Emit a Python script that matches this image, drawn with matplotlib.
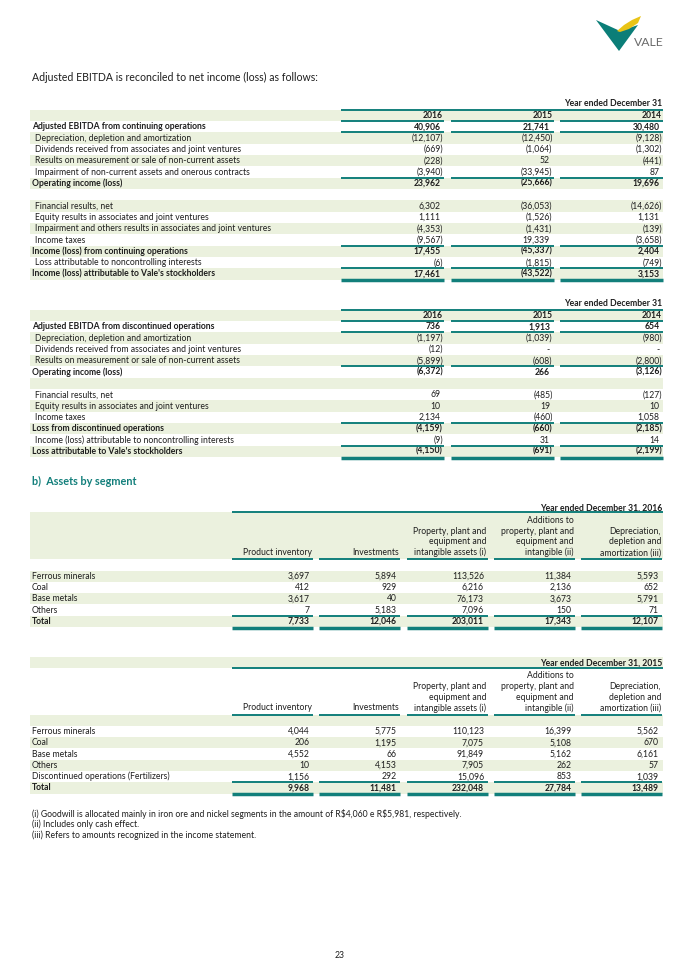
import matplotlib
matplotlib.use("Agg")
import matplotlib.pyplot as plt
from matplotlib.patches import Polygon, Rectangle

plt.rcParams['font.family'] = ['Lato', 'DejaVu Sans']

TEAL = '#127F7B'
SHADE = '#EBF1DE'
INK = '#1E1E1E'
FS = 6.2

# ---- data: reconciliation, continuing operations
years = ['2016', '2015', '2014']
cont_labels = [
    "Adjusted EBITDA from continuing operations",
    "Depreciation, depletion and amortization",
    "Dividends received from associates and joint ventures",
    "Results on measurement or sale of non-current assets",
    "Impairment of non-current assets and onerous contracts",
    "Operating income (loss)",
    "",
    "Financial results, net",
    "Equity results in associates and joint ventures",
    "Impairment and others results in associates and joint ventures",
    "Income taxes",
    "Income (loss) from continuing operations",
    "Loss attributable to noncontrolling interests",
    "Income (loss) attributable to Vale's stockholders",
]
cont_bold = [1, 6, 12, 14]
cont_2016 = [40906, -12107, -669, -228, -3940, 23962, None, 6302, 1111, -4353, -9567, 17455, -6, 17461]
cont_2015 = [21741, -12450, -1064, 52, -33945, -25666, None, -36053, -1526, -1431, 19339, -45337, -1815, -43522]
cont_2014 = [30480, -9128, -1302, -441, 87, 19696, None, -14626, 1131, -139, -3658, 2404, -749, 3153]

# ---- data: reconciliation, discontinued operations
disc_labels = [
    "Adjusted EBITDA from discontinued operations",
    "Depreciation, depletion and amortization",
    "Dividends received from associates and joint ventures",
    "Results on measurement or sale of non-current assets",
    "Operating income (loss)",
    "",
    "Financial results, net",
    "Equity results in associates and joint ventures",
    "Income taxes",
    "Loss from discontinued operations",
    "Income (loss) attributable to noncontrolling interests",
    "Loss attributable to Vale's stockholders",
]
disc_bold = [1, 5, 10, 12]
disc_2016 = [736, -1197, -12, -5899, -6372, None, 69, 10, 2134, -4159, -9, -4150]
disc_2015 = [1913, -1039, '-', -608, 266, None, -485, 19, -460, -660, 31, -691]
disc_2014 = [654, -980, '-', -2800, -3126, None, -127, 10, 1058, -2185, 14, -2199]

# ---- data: assets by segment
asset_headers = [
    ["Product inventory"],
    ["Investments"],
    ["Property, plant and", "equipment and", "intangible assets (i)"],
    ["Additions to", "property, plant and", "equipment and", "intangible (ii)"],
    ["Depreciation,", "depletion and", "amortization (iii)"],
]
seg_2016 = ["Ferrous minerals", "Coal", "Base metals", "Others", "Total"]
inv_2016 = [3697, 412, 3617, 7, 7733]
invest_2016 = [5894, 929, 40, 5183, 12046]
ppe_2016 = [113526, 6216, 76173, 7096, 203011]
add_2016 = [11384, 2136, 3673, 150, 17343]
dda_2016 = [5593, 652, 5791, 71, 12107]

seg_2015 = ["Ferrous minerals", "Coal", "Base metals", "Others",
            "Discontinued operations (Fertilizers)", "Total"]
inv_2015 = [4044, 206, 4552, 10, 1156, 9968]
invest_2015 = [5775, 1195, 66, 4153, 292, 11481]
ppe_2015 = [110123, 7075, 91849, 7905, 15096, 232048]
add_2015 = [16399, 5108, 5162, 262, 853, 27784]
dda_2015 = [5562, 670, 6161, 57, 1039, 13489]

notes = [
    "(i) Goodwill is allocated mainly in iron ore and nickel segments in the amount of R\\$4,060 e R\\$5,981, respectively.",
    "(ii) Includes only cash effect.",
    "(iii) Refers to amounts recognized in the income statement.",
]

fig = plt.figure(figsize=(6.8, 9.61), dpi=100)
ax = fig.add_axes([0, 0, 1, 1])
ax.set_xlim(0, 680)
ax.set_ylim(961, 0)
ax.axis('off')

LEFT, RIGHT = 30, 663


def fmt(v):
    if v is None:
        return ''
    if isinstance(v, str):
        return v
    s = f"{abs(v):,}"
    return f"({s})" if v < 0 else s


def num(x, y, v, bold=False):
    pad = 1 if (isinstance(v, int) and v < 0) else 3.5
    ax.text(x - pad, y, fmt(v), ha='right', va='center', fontsize=FS,
            color=INK, fontweight='bold' if bold else 'normal')


def band(y0, y1):
    ax.add_patch(Rectangle((LEFT, y0), RIGHT - LEFT, y1 - y0, color=SHADE, lw=0, zorder=0))


def hline(x0, x1, y, lw=1.4):
    ax.plot([x0, x1], [y, y], color=TEAL, lw=lw, solid_capstyle='butt', zorder=3)


def double(x0, x1, y):
    hline(x0, x1, y + 1.2, 2.5)


def year_table(yh, labels, bold_rows, cols, lines_above):
    p = 11.33
    rights = [444, 553.5, 663]
    w = 103
    ax.text(RIGHT - 1, yh - 11.6, "Year ended December 31", ha='right', va='center',
            fontsize=FS, color=INK, fontweight='bold')
    band(yh - p / 2, yh + p / 2)
    for i in range(1, len(labels) + 1):
        if i % 2 == 0:
            band(yh + i * p - p / 2, yh + i * p + p / 2)
    hline(rights[0] - w, rights[-1], yh - p / 2)
    for r, yr in zip(rights, years):
        ax.text(r - 1, yh, yr, ha='right', va='center', fontsize=FS,
                color=INK, fontweight='bold')
    for i, lab in enumerate(labels, start=1):
        y = yh + i * p
        b = i in bold_rows
        ax.text(32 if b else 35, y, lab, ha='left', va='center', fontsize=FS,
                color=INK, fontweight='bold' if b else 'normal')
        for r, col in zip(rights, cols):
            num(r, y, col[i - 1], b)
    for k in lines_above:
        for r in rights:
            hline(r - w, r, yh + k * p - p / 2)
    for r in rights:
        double(r - w, r, yh + len(labels) * p + p / 2 - 0.6)


year_table(115.4, cont_labels, cont_bold, [cont_2016, cont_2015, cont_2014], [1, 2, 6, 12, 14])
year_table(315.4, disc_labels, disc_bold, [disc_2016, disc_2015, disc_2014], [1, 2, 5, 10, 12])

# ---- headers / texts
ax.text(32, 77, "Adjusted EBITDA is reconciled to net income (loss) as follows:",
        ha='left', va='center', fontsize=7.6, color=INK)
ax.text(32, 481, "b)  Assets by segment", ha='left', va='center', fontsize=7.8,
        color=TEAL, fontweight='bold')


def asset_table(y_title, shade_title, labels, cols):
    p = 11.3
    lp = 10.7
    rights = [313, 400.25, 487.5, 574.75, 662]
    w = 81
    y_top = y_title + 4.5
    y_hdr_last = y_top + 40.5
    y_sub = y_hdr_last + 6.5
    y_first = y_sub + 17
    if shade_title:
        band(y_title - 6, y_top)
        band(y_sub, y_sub + p)
    else:
        band(y_top, y_sub)
    ax.text(RIGHT - 1, y_title, "Year ended December 31, " + ("2015" if shade_title else "2016"),
            ha='right', va='center', fontsize=FS, color=INK, fontweight='bold')
    hline(rights[0] - w, RIGHT, y_top)
    for r, hdr in zip(rights, asset_headers):
        for j, line in enumerate(reversed(hdr)):
            ax.text(r - 1, y_hdr_last - j * lp, line, ha='right', va='center',
                    fontsize=FS, color=INK)
        hline(r - w, r, y_sub)
    n = len(labels)
    for i, lab in enumerate(labels):
        y = y_first + i * p
        shaded = (i % 2 == 0) != shade_title
        if shaded:
            band(y - p / 2, y + p / 2)
        b = i == n - 1
        ax.text(32, y, lab, ha='left', va='center', fontsize=FS, color=INK,
                fontweight='bold' if b else 'normal')
        for r, col in zip(rights, cols):
            num(r, y, col[i], b)
    y_last = y_first + (n - 1) * p
    for r in rights:
        hline(r - w, r, y_last - p / 2)
        double(r - w, r, y_last + p / 2 - 0.6)


asset_table(507.7, False, seg_2016, [inv_2016, invest_2016, ppe_2016, add_2016, dda_2016])
asset_table(663.0, True, seg_2015, [inv_2015, invest_2015, ppe_2015, add_2015, dda_2015])

for k, t in enumerate(notes):
    ax.text(32, 814 + k * 10.5, t, ha='left', va='center', fontsize=FS, color=INK)

ax.text(340, 955, "23", ha='center', va='center', fontsize=FS, color=INK)

# ---- logo
ax.add_patch(Polygon([(596, 20), (620, 31), (638, 25), (619, 51)], closed=True,
                     color='#0B7E78', lw=0))
ax.add_patch(Polygon([(617, 31), (624, 25), (632, 20), (641, 16), (638, 23), (629, 29), (620, 32)],
                     closed=True, color='#E9C416', lw=0))
ax.text(634, 42, "VALE", ha='left', va='center', fontsize=8.8, color='#6B6B6B')

fig.savefig("out.png", dpi=100)
